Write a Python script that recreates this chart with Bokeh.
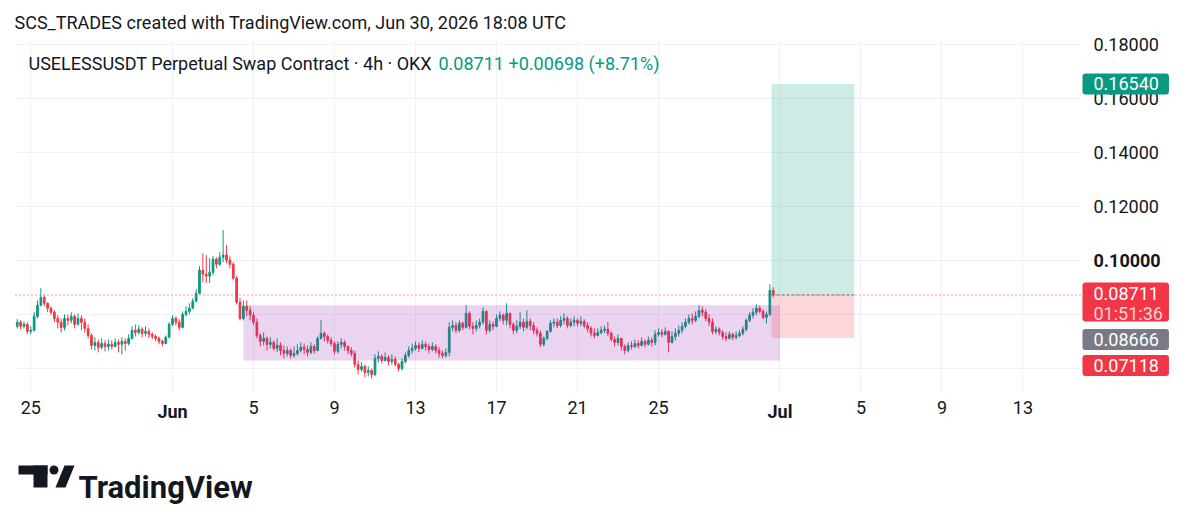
import numpy as np
import pandas as pd
from bokeh.plotting import figure
from bokeh.models import (ColumnDataSource, Range1d, FixedTicker, LinearAxis,
                          Grid, Label)
from bokeh.core.properties import value
from bokeh.embed import file_html
from bokeh.resources import INLINE

# ------------------------------------------------------------------ data
header_text = "SCS_TRADES created with TradingView.com, Jun 30, 2026 18:08 UTC"
symbol_text = "USELESSUSDT Perpetual Swap Contract \u00b7 4h \u00b7 OKX"
last_text = "0.08711"
change_text = "+0.00698 (+8.71%)"
logo_text = "TradingView"

first_candle = "2026-05-24 08:00"
candle_freq = "4h"
open0 = 0.0755

closes = [
    0.0770, 0.0755, 0.0762, 0.0736,                      # May 24
    0.0740, 0.0792, 0.0833, 0.0862, 0.0840, 0.0822,      # May 25
    0.0807, 0.0784, 0.0770, 0.0751, 0.0784, 0.0777,      # May 26
    0.0792, 0.0762, 0.0784, 0.0770, 0.0747, 0.0721,      # May 27
    0.0684, 0.0695, 0.0677, 0.0691, 0.0680, 0.0688,      # May 28
    0.0680, 0.0695, 0.0688, 0.0699, 0.0691, 0.0710,      # May 29
    0.0740, 0.0732, 0.0744, 0.0729, 0.0736, 0.0725,      # May 30
    0.0717, 0.0710, 0.0699, 0.0691, 0.0714, 0.0762,      # May 31
    0.0784, 0.0770, 0.0751, 0.0799, 0.0810, 0.0822,      # Jun 1
    0.0848, 0.0877, 0.0963, 0.0948, 0.0941, 0.0955,      # Jun 2
    0.1004, 0.0985, 0.1011, 0.1019, 0.1000, 0.0985,      # Jun 3
    0.0933, 0.0844, 0.0784, 0.0829, 0.0814, 0.0796,      # Jun 4
    0.0770, 0.0721, 0.0699, 0.0710, 0.0688, 0.0695,      # Jun 5
    0.0673, 0.0684, 0.0665, 0.0654, 0.0665, 0.0647,      # Jun 6
    0.0654, 0.0665, 0.0677, 0.0669, 0.0658, 0.0680,      # Jun 7
    0.0665, 0.0710, 0.0729, 0.0717, 0.0703, 0.0691,      # Jun 8
    0.0662, 0.0688, 0.0695, 0.0680, 0.0665, 0.0654,      # Jun 9
    0.0613, 0.0595, 0.0606, 0.0584, 0.0591, 0.0576,      # Jun 10
    0.0636, 0.0643, 0.0628, 0.0639, 0.0624, 0.0632,      # Jun 11
    0.0613, 0.0598, 0.0624, 0.0647, 0.0665, 0.0673,      # Jun 12
    0.0684, 0.0673, 0.0688, 0.0680, 0.0669, 0.0680,      # Jun 13
    0.0665, 0.0654, 0.0647, 0.0658, 0.0751, 0.0758,      # Jun 14
    0.0740, 0.0766, 0.0751, 0.0803, 0.0755, 0.0747,      # Jun 15
    0.0758, 0.0770, 0.0810, 0.0740, 0.0762, 0.0755,      # Jun 16
    0.0784, 0.0796, 0.0777, 0.0803, 0.0762, 0.0740,      # Jun 17
    0.0755, 0.0770, 0.0751, 0.0773, 0.0758, 0.0740,      # Jun 18
    0.0729, 0.0688, 0.0710, 0.0736, 0.0766, 0.0770,      # Jun 19
    0.0758, 0.0777, 0.0784, 0.0758, 0.0770, 0.0777,      # Jun 20
    0.0766, 0.0773, 0.0758, 0.0747, 0.0729, 0.0721,      # Jun 21
    0.0732, 0.0740, 0.0744, 0.0729, 0.0706, 0.0695,      # Jun 22
    0.0710, 0.0680, 0.0665, 0.0684, 0.0680, 0.0691,      # Jun 23
    0.0684, 0.0699, 0.0688, 0.0703, 0.0695, 0.0725,      # Jun 24
    0.0732, 0.0725, 0.0736, 0.0695, 0.0717, 0.0729,      # Jun 25
    0.0740, 0.0755, 0.0770, 0.0784, 0.0777, 0.0792,      # Jun 26
    0.0814, 0.0807, 0.0784, 0.0770, 0.0736, 0.0744,      # Jun 27
    0.0732, 0.0717, 0.0710, 0.0725, 0.0714, 0.0721,      # Jun 28
    0.0729, 0.0744, 0.0777, 0.0796, 0.0807, 0.0822,      # Jun 29
    0.0810, 0.0788, 0.0799, 0.0888, 0.08711,             # Jun 30
]

highs = [
    0.0781, 0.0777, 0.0773, 0.0770,
    0.0755, 0.0807, 0.0851, 0.0896, 0.0870, 0.0844,
    0.0829, 0.0814, 0.0796, 0.0784, 0.0799, 0.0799,
    0.0807, 0.0799, 0.0803, 0.0796, 0.0784, 0.0762,
    0.0729, 0.0714, 0.0706, 0.0710, 0.0703, 0.0706,
    0.0703, 0.0710, 0.0706, 0.0714, 0.0710, 0.0725,
    0.0755, 0.0762, 0.0758, 0.0751, 0.0755, 0.0747,
    0.0732, 0.0725, 0.0717, 0.0706, 0.0721, 0.0770,
    0.0796, 0.0792, 0.0781, 0.0810, 0.0829, 0.0840,
    0.0859, 0.0892, 0.0978, 0.1026, 0.1019, 0.1007,
    0.1015, 0.1011, 0.1030, 0.1112, 0.1056, 0.1015,
    0.0993, 0.0941, 0.0859, 0.0851, 0.0851, 0.0829,
    0.0807, 0.0784, 0.0729, 0.0732, 0.0717, 0.0714,
    0.0703, 0.0710, 0.0695, 0.0684, 0.0680, 0.0673,
    0.0680, 0.0688, 0.0695, 0.0691, 0.0684, 0.0695,
    0.0688, 0.0717, 0.0777, 0.0736, 0.0725, 0.0714,
    0.0699, 0.0699, 0.0710, 0.0703, 0.0684, 0.0677,
    0.0665, 0.0628, 0.0621, 0.0613, 0.0606, 0.0598,
    0.0651, 0.0662, 0.0651, 0.0658, 0.0647, 0.0651,
    0.0643, 0.0621, 0.0636, 0.0658, 0.0680, 0.0691,
    0.0699, 0.0695, 0.0703, 0.0699, 0.0691, 0.0695,
    0.0688, 0.0677, 0.0665, 0.0673, 0.0770, 0.0777,
    0.0770, 0.0777, 0.0773, 0.0833, 0.0810, 0.0770,
    0.0777, 0.0784, 0.0825, 0.0814, 0.0777, 0.0773,
    0.0799, 0.0810, 0.0803, 0.0840, 0.0803, 0.0770,
    0.0777, 0.0807, 0.0784, 0.0814, 0.0784, 0.0770,
    0.0751, 0.0740, 0.0717, 0.0740, 0.0777, 0.0784,
    0.0784, 0.0792, 0.0803, 0.0792, 0.0784, 0.0792,
    0.0784, 0.0792, 0.0781, 0.0770, 0.0755, 0.0747,
    0.0747, 0.0755, 0.0758, 0.0770, 0.0736, 0.0717,
    0.0725, 0.0710, 0.0688, 0.0695, 0.0699, 0.0706,
    0.0703, 0.0714, 0.0706, 0.0717, 0.0714, 0.0740,
    0.0747, 0.0744, 0.0751, 0.0740, 0.0736, 0.0747,
    0.0758, 0.0770, 0.0784, 0.0799, 0.0803, 0.0810,
    0.0833, 0.0829, 0.0818, 0.0799, 0.0784, 0.0755,
    0.0751, 0.0740, 0.0732, 0.0736, 0.0732, 0.0736,
    0.0740, 0.0755, 0.0784, 0.0807, 0.0822, 0.0836,
    0.0833, 0.0818, 0.0810, 0.0911, 0.0900,
]

lows = [
    0.0747, 0.0744, 0.0747, 0.0725,
    0.0725, 0.0736, 0.0784, 0.0829, 0.0829, 0.0807,
    0.0796, 0.0770, 0.0747, 0.0732, 0.0740, 0.0758,
    0.0766, 0.0747, 0.0758, 0.0740, 0.0732, 0.0710,
    0.0669, 0.0665, 0.0658, 0.0669, 0.0662, 0.0665,
    0.0669, 0.0677, 0.0658, 0.0651, 0.0665, 0.0684,
    0.0706, 0.0717, 0.0725, 0.0714, 0.0717, 0.0710,
    0.0706, 0.0699, 0.0688, 0.0680, 0.0688, 0.0710,
    0.0755, 0.0758, 0.0740, 0.0747, 0.0792, 0.0799,
    0.0818, 0.0844, 0.0874, 0.0918, 0.0915, 0.0915,
    0.0944, 0.0970, 0.0978, 0.0993, 0.0989, 0.0970,
    0.0926, 0.0836, 0.0777, 0.0777, 0.0792, 0.0777,
    0.0758, 0.0710, 0.0680, 0.0684, 0.0665, 0.0673,
    0.0665, 0.0658, 0.0647, 0.0636, 0.0643, 0.0636,
    0.0639, 0.0647, 0.0658, 0.0651, 0.0643, 0.0651,
    0.0654, 0.0662, 0.0706, 0.0699, 0.0691, 0.0680,
    0.0651, 0.0654, 0.0673, 0.0665, 0.0651, 0.0643,
    0.0602, 0.0576, 0.0587, 0.0565, 0.0569, 0.0561,
    0.0569, 0.0621, 0.0617, 0.0624, 0.0610, 0.0613,
    0.0606, 0.0587, 0.0591, 0.0617, 0.0639, 0.0654,
    0.0665, 0.0658, 0.0669, 0.0665, 0.0654, 0.0662,
    0.0654, 0.0639, 0.0636, 0.0639, 0.0643, 0.0736,
    0.0729, 0.0732, 0.0740, 0.0747, 0.0744, 0.0725,
    0.0736, 0.0747, 0.0762, 0.0725, 0.0732, 0.0740,
    0.0751, 0.0773, 0.0762, 0.0758, 0.0747, 0.0725,
    0.0729, 0.0744, 0.0736, 0.0744, 0.0740, 0.0725,
    0.0717, 0.0677, 0.0680, 0.0703, 0.0732, 0.0751,
    0.0747, 0.0751, 0.0762, 0.0747, 0.0751, 0.0755,
    0.0755, 0.0755, 0.0747, 0.0732, 0.0717, 0.0710,
    0.0717, 0.0725, 0.0729, 0.0717, 0.0699, 0.0680,
    0.0684, 0.0665, 0.0651, 0.0658, 0.0669, 0.0673,
    0.0673, 0.0680, 0.0677, 0.0684, 0.0680, 0.0684,
    0.0717, 0.0714, 0.0721, 0.0658, 0.0691, 0.0703,
    0.0717, 0.0729, 0.0747, 0.0762, 0.0762, 0.0770,
    0.0784, 0.0792, 0.0773, 0.0755, 0.0725, 0.0725,
    0.0721, 0.0706, 0.0699, 0.0706, 0.0703, 0.0706,
    0.0714, 0.0721, 0.0736, 0.0770, 0.0784, 0.0796,
    0.0803, 0.0781, 0.0766, 0.0792, 0.0862,
]

x_tick_dates = ["2026-05-25", "2026-06-01", "2026-06-05", "2026-06-09",
                "2026-06-13", "2026-06-17", "2026-06-21", "2026-06-25",
                "2026-07-01", "2026-07-05", "2026-07-09", "2026-07-13"]
x_tick_labels = ["25", "Jun", "5", "9", "13", "17", "21", "25",
                 "Jul", "5", "9", "13"]
x_bold_labels = ["Jun", "Jul"]
y_ticks = [0.06, 0.08, 0.10, 0.12, 0.14, 0.16, 0.18]
y_tick_labels = ["0.06000", "0.08000", "0.10000", "0.12000",
                 "0.14000", "0.16000", "0.18000"]
y_bold_labels = ["0.10000"]

# drawings
zone_start, zone_end = "2026-06-04 12:00", "2026-07-01 00:00"
zone_top, zone_bottom = 0.0833, 0.0628
pos_start, pos_end = "2026-06-30 14:00", "2026-07-04 16:00"
entry_price = 0.08711
target_price = 0.16540
stop_price = 0.07118
marker_price = 0.08666
countdown = "01:51:36"

# visible window of the price pane
pane_start, pane_end = "2026-05-24 05:55", "2026-07-15 20:10"
pane_low, pane_high = 0.05093, 0.18149

# ------------------------------------------------------------------ styles
GREEN = "#089981"
RED = "#f23645"
GRAY = "#787b86"
TEXT = "#131722"
GRID = "#eef1f5"
FONT = "Roboto"
FS = "18px"
W, H = 1200, 521
PL, PR, PT, PB = 15, 1080, 40, 392   # pane box in page pixels

T0 = pd.Timestamp("2026-05-25")
DAY = pd.Timedelta(days=1)


def to_t(s):
    return (pd.Timestamp(s) - T0) / DAY


xs, xe = to_t(pane_start), to_t(pane_end)
dx = (xe - xs) / (PR - PL)
dy = (pane_high - pane_low) / (PB - PT)


def px2x(px):
    return xs + (px - PL) * dx


def px2y(py):
    return pane_high - (py - PT) * dy


# ------------------------------------------------------------------ figure
p = figure(width=W, height=H, x_range=Range1d(px2x(0), px2x(W)),
           y_range=Range1d(px2y(H), px2y(0)), output_backend="svg",
           toolbar_location=None, x_axis_type=None, y_axis_type=None,
           title=None, min_border=0, min_border_left=0, min_border_right=0,
           min_border_top=0, min_border_bottom=0)
p.outline_line_color = None
p.background_fill_color = "white"
p.border_fill_color = "white"

xt = [to_t(d) for d in x_tick_dates]
p.add_layout(Grid(dimension=0, ticker=FixedTicker(ticks=xt), grid_line_color=GRID))
p.add_layout(Grid(dimension=1, ticker=FixedTicker(ticks=y_ticks), grid_line_color=GRID))

# white margins around the pane (hide grid lines outside it)
p.quad(left=[px2x(0), px2x(PR), px2x(0), px2x(0)],
       right=[px2x(PL), px2x(W), px2x(W), px2x(W)],
       top=[px2y(0), px2y(0), px2y(0), px2y(PB)],
       bottom=[px2y(H), px2y(H), px2y(PT), px2y(H)],
       fill_color="white", line_color=None)


def make_axis(ticks, labels, bold, loc, standoff):
    ax = LinearAxis(ticker=FixedTicker(ticks=list(ticks)), fixed_location=loc,
                    major_label_overrides={float(k): v for k, v in zip(ticks, labels)})
    ax.axis_line_color = None
    ax.major_tick_line_color = None
    ax.minor_tick_line_color = None
    ax.major_tick_out = 0
    ax.major_tick_in = 0
    ax.major_label_text_font = FONT
    ax.major_label_text_font_size = FS
    ax.major_label_text_color = TEXT
    ax.major_label_text_font_style = "bold" if bold else "normal"
    ax.major_label_standoff = standoff
    return ax


def split(ticks, labels, bold_set):
    norm = [(t, s) for t, s in zip(ticks, labels) if s not in bold_set]
    bold = [(t, s) for t, s in zip(ticks, labels) if s in bold_set]
    return norm, bold


xn, xb = split(xt, x_tick_labels, x_bold_labels)
yn, yb = split(y_ticks, y_tick_labels, y_bold_labels)
for group, bold in ((xn, False), (xb, True)):
    p.add_layout(make_axis([g[0] for g in group], [g[1] for g in group], bold,
                           pane_low, 8), "below")
for group, bold in ((yn, False), (yb, True)):
    p.add_layout(make_axis([g[0] for g in group], [g[1] for g in group], bold,
                           xe, 13), "right")

# ------------------------------------------------------------------ candles
times = pd.date_range(first_candle, periods=len(closes), freq=candle_freq)
tx = np.asarray((times - T0) / DAY, dtype=float)
c = np.array(closes)
o = np.concatenate([[open0], c[:-1]])
h = np.maximum.reduce([np.array(highs), o, c])
l = np.minimum.reduce([np.array(lows), o, c])
col = np.where(c >= o, GREEN, RED)
src = ColumnDataSource(dict(x=tx, o=o, c=c, h=h, l=l,
                            top=np.maximum(o, c), bottom=np.minimum(o, c),
                            color=col))
bar_w = 1.0 / 6.0
p.segment(x0="x", y0="l", x1="x", y1="h", color="color", line_width=1, source=src)
p.vbar(x="x", width=bar_w * 0.5, top="top", bottom="bottom", fill_color="color",
       line_color="color", line_width=1, source=src)

# rectangle (range zone)
p.quad(left=[to_t(zone_start)], right=[to_t(zone_end)], bottom=[zone_bottom],
       top=[zone_top], fill_color="#9c27b0", fill_alpha=0.2, line_color=None)

# long position tool
ps, pe = to_t(pos_start), to_t(pos_end)
p.quad(left=[ps], right=[pe], bottom=[entry_price], top=[target_price],
       fill_color=GREEN, fill_alpha=0.2, line_color=None)
p.quad(left=[ps], right=[pe], bottom=[stop_price], top=[entry_price],
       fill_color=RED, fill_alpha=0.2, line_color=None)

# last price line across the pane
p.segment(x0=[xs], y0=[entry_price], x1=[xe], y1=[entry_price], line_color=RED,
          line_dash="1 3", line_width=1)
p.segment(x0=[ps], y0=[entry_price], x1=[pe], y1=[entry_price],
          line_color=GRAY, line_dash="3 2", line_width=1)

# header and legend
p.text(x=[px2x(14)], y=[px2y(22)], text=[header_text], text_font=value(FONT),
       text_font_size=FS, text_color=TEXT, text_baseline="middle", text_align="left")
leg_y = px2y(63)
p.text(x=[px2x(28)], y=[leg_y], text=[symbol_text], text_font=value(FONT),
       text_font_size=FS, text_color=TEXT, text_baseline="middle", text_align="left")
p.text(x=[px2x(438)], y=[leg_y], text=[last_text], text_font=value(FONT),
       text_font_size=FS, text_color=GREEN, text_baseline="middle", text_align="left")
p.text(x=[px2x(508)], y=[leg_y], text=[change_text], text_font=value(FONT),
       text_font_size=FS, text_color=GREEN, text_baseline="middle", text_align="left")

# TradingView logo
p.quad(left=[px2x(18), px2x(33)], right=[px2x(47), px2x(47)],
       top=[px2y(465), px2y(465)], bottom=[px2y(474), px2y(487)],
       fill_color=TEXT, line_color=None)
p.scatter(x=[px2x(53.5)], y=[px2y(469.5)], size=9, marker="circle",
          fill_color=TEXT, line_color=None)
p.patch(x=[px2x(55), px2x(65), px2x(74), px2x(64)],
        y=[px2y(487), px2y(487), px2y(465), px2y(465)],
        fill_color=TEXT, line_color=None)
p.text(x=[px2x(78)], y=[px2y(487)], text=[logo_text], text_font=value(FONT),
       text_font_size="31px", text_font_style="bold", text_color=TEXT,
       text_baseline="alphabetic", text_align="left")

# price tags on the scale
tag_x = px2x(1082)


def tag(y, text, bg, color="white", pad_top=4, pad_bottom=4):
    lab = Label(x=tag_x, y=y, text=text, text_font=FONT, text_font_size=FS,
                text_color=color, text_align="left", text_baseline="middle",
                background_fill_color=bg, background_fill_alpha=1.0 if bg else 0.0,
                padding=dict(left=11, right=10, top=pad_top, bottom=pad_bottom),
                border_radius=3)
    p.add_layout(lab)


tag(target_price, f"{target_price:.5f}", GREEN)
tag(px2y(301.5), f"{entry_price:.5f}", RED, pad_top=4, pad_bottom=22)
tag(px2y(313), countdown, None, color="#ffd3d7", pad_top=0, pad_bottom=0)
tag(px2y(339), f"{marker_price:.5f}", GRAY)
tag(px2y(365), f"{stop_price:.5f}", RED)

open("out.html", "w").write(file_html(p, INLINE))
